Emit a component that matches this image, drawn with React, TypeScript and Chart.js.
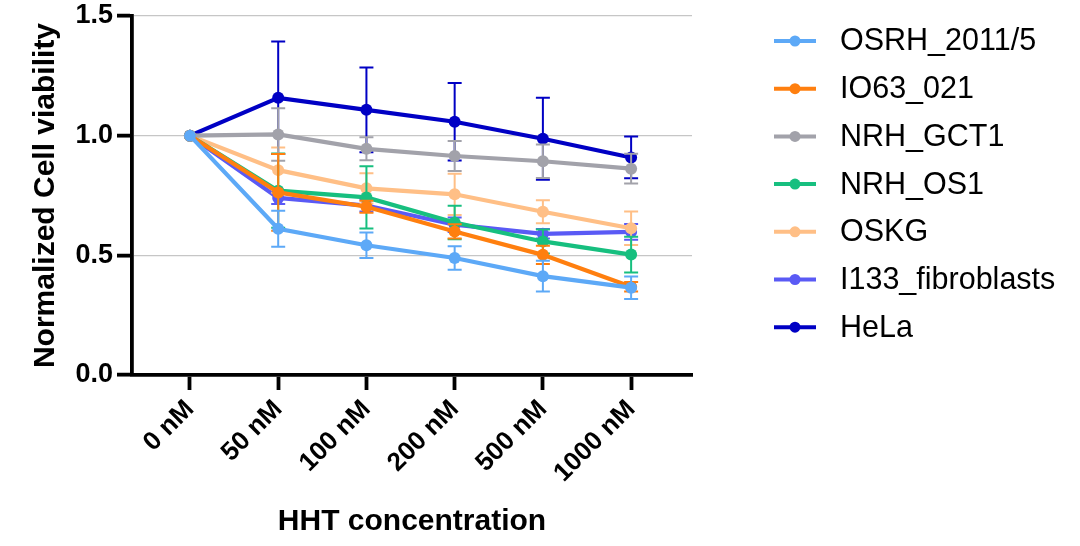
import React, { useEffect, useRef } from 'react';
import { Chart, registerables } from 'chart.js';

Chart.register(...registerables);

const categories = ['0 nM', '50 nM', '100 nM', '200 nM', '500 nM', '1000 nM'];
const yTickValues = [0, 0.5, 1.0, 1.5];

const seriesNames = ['OSRH_2011/5', 'IO63_021', 'NRH_GCT1', 'NRH_OS1', 'OSKG', 'I133_fibroblasts', 'HeLa'];
const seriesColors = ['#5DA9F7', '#FF7F0F', '#A2A2AA', '#17BF7F', '#FFBF86', '#5A5AF5', '#0000C4'];

const osrhMean = [1.0, 0.611, 0.542, 0.489, 0.413, 0.365];
const osrhErr = [0, 0.075, 0.053, 0.049, 0.064, 0.047];
const io63Mean = [1.0, 0.763, 0.703, 0.600, 0.502, 0.369];
const io63Err = [0, 0.16, 0.025, 0.03, 0.038, 0.02];
const gct1Mean = [1.0, 1.005, 0.945, 0.915, 0.893, 0.862];
const gct1Err = [0, 0.11, 0.048, 0.063, 0.07, 0.062];
const os1Mean = [1.0, 0.77, 0.742, 0.637, 0.558, 0.503];
const os1Err = [0, 0.155, 0.13, 0.07, 0.05, 0.075];
const oskgMean = [1.0, 0.856, 0.78, 0.755, 0.682, 0.613];
const oskgErr = [0, 0.095, 0.063, 0.086, 0.048, 0.07];
const fibroMean = [1.0, 0.74, 0.708, 0.628, 0.59, 0.598];
const fibroErr = [0, 0.025, 0.025, 0.03, 0.02, 0.033];
const helaMean = [1.0, 1.158, 1.108, 1.058, 0.987, 0.909];
const helaErr = [0, 0.235, 0.177, 0.162, 0.171, 0.087];

const means = [osrhMean, io63Mean, gct1Mean, os1Mean, oskgMean, fibroMean, helaMean];
const errs = [osrhErr, io63Err, gct1Err, os1Err, oskgErr, fibroErr, helaErr];

const FONT = '"Liberation Sans", Arial, sans-serif';

const errorBarPlugin = {
  id: 'errorBars',
  beforeDatasetDraw(chart: any, args: any) {
    const ds = chart.data.datasets[args.index];
    const meta = args.meta;
    const yScale = chart.scales.y;
    const ctx = chart.ctx;
    ctx.save();
    ctx.strokeStyle = ds.borderColor;
    ctx.lineWidth = 2;
    meta.data.forEach((pt: any, i: number) => {
      const e = ds.errors[i];
      if (!e) return;
      const v = ds.data[i].y;
      const top = yScale.getPixelForValue(v + e);
      const bot = yScale.getPixelForValue(v - e);
      const x = pt.x;
      ctx.beginPath();
      ctx.moveTo(x, top);
      ctx.lineTo(x, bot);
      ctx.moveTo(x - 7, top);
      ctx.lineTo(x + 7, top);
      ctx.moveTo(x - 7, bot);
      ctx.lineTo(x + 7, bot);
      ctx.stroke();
    });
    ctx.restore();
  },
};

const sideLegendPlugin = {
  id: 'sideLegend',
  afterDraw(chart: any) {
    const ctx = chart.ctx;
    const x0 = chart.chartArea.right + 82;
    ctx.save();
    chart.data.datasets.forEach((ds: any, i: number) => {
      const cy = 41 + i * 47.7;
      ctx.strokeStyle = ds.borderColor;
      ctx.lineWidth = 4;
      ctx.beginPath();
      ctx.moveTo(x0, cy);
      ctx.lineTo(x0 + 42, cy);
      ctx.stroke();
      ctx.fillStyle = ds.borderColor;
      ctx.beginPath();
      ctx.arc(x0 + 21, cy, 5.5, 0, Math.PI * 2);
      ctx.fill();
      ctx.fillStyle = '#000';
      ctx.font = '30.5px ' + FONT;
      ctx.textBaseline = 'middle';
      ctx.textAlign = 'left';
      ctx.fillText(ds.label, x0 + 66, cy + 1);
    });
    ctx.restore();
  },
};

export default function App() {
  const canvasRef = useRef<HTMLCanvasElement | null>(null);

  useEffect(() => {
    if (!canvasRef.current) return;
    const datasets = seriesNames.map((name, s) => ({
      label: name,
      data: means[s].map((v, i) => ({ x: i, y: v })),
      errors: errs[s],
      borderColor: seriesColors[s],
      backgroundColor: seriesColors[s],
      pointBackgroundColor: seriesColors[s],
      pointBorderWidth: 0,
      pointRadius: 6,
      borderWidth: 4.2,
      tension: 0,
      fill: false,
    }));

    const chart = new Chart(canvasRef.current, {
      type: 'line',
      data: { datasets } as any,
      options: {
        responsive: false,
        animation: false,
        layout: { padding: { top: 16, right: 388, left: 0, bottom: 0 } },
        plugins: {
          legend: { display: false },
          tooltip: { enabled: false },
        },
        scales: {
          x: {
            type: 'linear',
            min: -0.657,
            max: 5.69,
            afterBuildTicks: (s: any) => {
              s.ticks = categories.map((_, i) => ({ value: i }));
            },
            afterFit: (s: any) => {
              s.height = 171;
            },
            border: { display: true, color: '#000', width: 3.8 },
            grid: {
              drawOnChartArea: false,
              drawTicks: true,
              tickLength: 15,
              tickWidth: 3.8,
              tickColor: '#000',
            },
            ticks: {
              autoSkip: false,
              maxRotation: 45,
              minRotation: 45,
              color: '#000',
              padding: 4,
              font: { family: FONT, size: 26, weight: 'bold' },
              callback: (_v: any, i: number) => categories[i],
            },
            title: {
              display: true,
              text: 'HHT concentration',
              color: '#000',
              font: { family: FONT, size: 30, weight: 'bold' },
              padding: { top: 0, bottom: 6 },
            },
          },
          y: {
            type: 'linear',
            min: 0,
            max: 1.5,
            afterBuildTicks: (s: any) => {
              s.ticks = yTickValues.map((v) => ({ value: v }));
            },
            afterFit: (s: any) => {
              s.width = 132;
            },
            border: { display: true, color: '#000', width: 3.8 },
            grid: {
              color: (c: any) => (c.tick && c.tick.value === 0 ? 'rgba(0,0,0,0)' : '#c6c6c6'),
              lineWidth: 1.3,
              drawTicks: true,
              tickLength: 15,
              tickWidth: 3.8,
              tickColor: '#000',
            },
            ticks: {
              color: '#000',
              padding: 4,
              font: { family: FONT, size: 27, weight: 'bold', lineHeight: 0.8 },
              callback: (v: any) => Number(v).toFixed(1),
            },
            title: {
              display: true,
              text: 'Normalized Cell viability',
              color: '#000',
              font: { family: FONT, size: 30, weight: 'bold' },
              padding: { top: 28, bottom: 0 },
            },
          },
        },
      } as any,
      plugins: [errorBarPlugin, sideLegendPlugin],
    });
    return () => chart.destroy();
  }, []);

  return (
    <div style={{ position: 'absolute', left: 0, top: 0, width: 1080, height: 546, background: '#fff' }}>
      <canvas ref={canvasRef} width={1080} height={546} style={{ display: 'block' }} />
    </div>
  );
}
